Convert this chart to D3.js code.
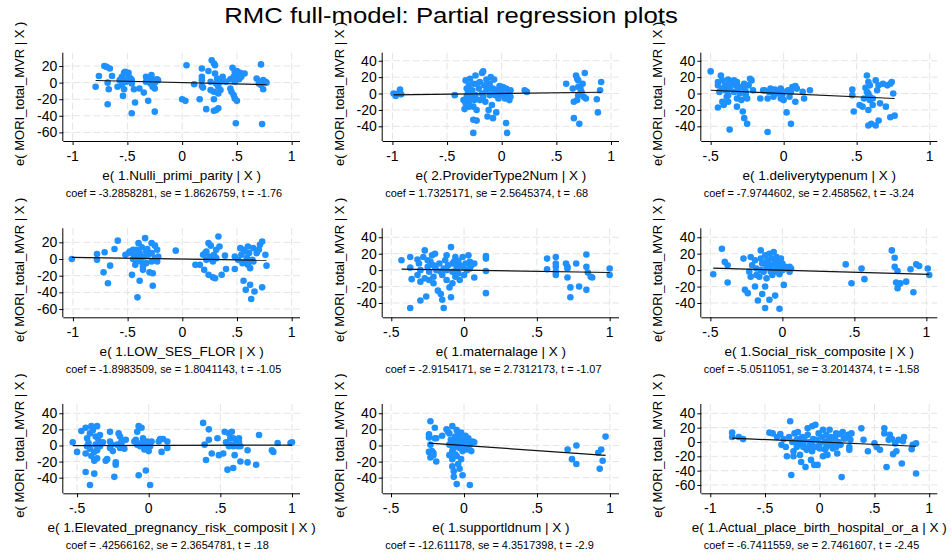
<!DOCTYPE html>
<html><head><meta charset="utf-8">
<script src="https://cdn.jsdelivr.net/npm/d3@7"></script>
<style>body{margin:0;background:#fff} text{font-family:"Liberation Sans",Arial,Helvetica,sans-serif;fill:#000}</style>
</head><body><svg id="c" width="951" height="556"></svg>
<script>
const chartTitle = "RMC full-model: Partial regression plots";
const yTitle = "e( MORI_total_MVR | X )";
const xTitles = ["e( 1.Nulli_primi_parity | X )","e( 2.ProviderType2Num | X )","e( 1.deliverytypenum | X )",
  "e( 1.LOW_SES_FLOR | X )","e( 1.maternalage | X )","e( 1.Social_risk_composite | X )",
  "e( 1.Elevated_pregnancy_risk_composit | X )","e( 1.supportldnum | X )","e( 1.Actual_place_birth_hospital_or_a | X )"];
const notes = ["coef = -3.2858281, se = 1.8626759, t = -1.76","coef = 1.7325171, se = 2.5645374, t = .68","coef = -7.9744602, se = 2.458562, t = -3.24",
  "coef = -1.8983509, se = 1.8041143, t = -1.05","coef = -2.9154171, se = 2.7312173, t = -1.07","coef = -5.0511051, se = 3.2014374, t = -1.58",
  "coef = .42566162, se = 2.3654781, t = .18","coef = -12.611178, se = 4.3517398, t = -2.9","coef = -6.7411559, se = 2.7461607, t = -2.45"];
const coefs = [-3.2858281, 1.7325171, -7.9744602, -1.8983509, -2.9154171, -5.0511051, 0.42566162, -12.611178, -6.7411559];
const xTicksWide = [-1, -0.5, 0, 0.5, 1];
const xTicksNarrow = [-0.5, 0, 0.5, 1];
const yTicks60 = [-60, -40, -20, 0, 20];
const yTicks40 = [-40, -20, 0, 20, 40];
const yTicks6040 = [-60, -40, -20, 0, 20, 40];

const ptsNulli = [[-0.79,-5],[-0.76,8],[-0.71,20],[-0.69,19],[-0.66,17],[-0.68,0],[-0.67,-8],[-0.68,-26],[-0.64,8],[-0.59,-5],
[-0.55,7],[-0.53,12],[-0.52,13],[-0.50,11],[-0.49,8],[-0.53,3],[-0.51,1],[-0.47,5],[-0.55,-3],[-0.53,-8],[-0.46,-1],[-0.57,3],[-0.49,12],[-0.46,3],
[-0.54,-16],[-0.46,-37],[-0.44,-8],[-0.43,-24],[-0.39,-7],[-0.35,-12],[-0.31,-22],
[-0.33,7],[-0.31,4],[-0.28,9],[-0.26,3],[-0.23,4],[-0.29,-1],[-0.27,-5],[-0.25,0],[-0.33,1],[-0.25,-7],[-0.25,-35],[-0.22,3],
[0.0,-20],[0.03,-22],[0.04,21],[0.11,-2],[0.16,-20],[0.18,17],[0.18,7],[0.18,3],[0.18,-4],[0.19,-6],[0.22,-32],[0.24,14],[0.26,1],[0.27,27],[0.29,23],[0.30,21],[0.26,-9],[0.29,-11],[0.29,-20],[0.29,-34],[0.31,-33],[0.33,-31],[0.30,11],[0.32,5],[0.31,-1],[0.33,-5],[0.35,1],[0.33,-13],[0.35,-9],[0.37,7],[0.40,1],[0.44,-7],[0.45,-11],
[0.46,18],[0.48,13],[0.50,11],[0.51,9],[0.47,7],[0.49,5],[0.52,4],[0.48,1],[0.54,7],[0.57,11],[0.44,4],[0.50,14],[0.53,12],[0.47,-15],[0.48,-19],[0.50,-22],[0.49,-49],
[0.72,22],[0.68,5],[0.71,1],[0.74,3],[0.76,1],[0.77,0],[0.72,-3],[0.74,-8],[0.70,-1],[0.73,-50]];

const ptsProvider = [[-0.99,0],[-0.97,-3],[-0.95,0],[-0.93,5],[-0.92,-1],[-0.43,-2],
[-0.35,-8],[-0.34,-19],[-0.33,16],[-0.32,6],[-0.31,0],[-0.30,-10],[-0.30,10],[-0.29,18],[-0.27,4],[-0.27,-4],[-0.26,-16],[-0.26,12],[-0.26,-32],[-0.24,22],[-0.26,-48],[-0.24,-2],[-0.23,-20],[-0.23,-33],[-0.21,6],[-0.20,14],[-0.20,-8],[-0.18,25],[-0.17,27],[-0.18,0],[-0.16,10],[-0.15,-10],[-0.14,4],[-0.14,17],[-0.12,-20],[-0.13,-28],[-0.11,-2],[-0.11,12],[-0.10,20],[-0.09,-14],[-0.08,6],[-0.08,-30],[-0.07,17],[-0.06,-2],[-0.05,-23],[-0.04,4],[-0.03,-6],[-0.02,9],[0,2],[0.01,8],[0.02,-2],[0.03,-6],[0.04,6],[0.04,-36],[0.05,-48],[0.06,0],[0.07,-8],[0.08,4],[0.08,-4],[-0.32,-4],[-0.28,2],[-0.25,-8],[-0.23,12],[-0.17,-4],[-0.12,6],[-0.08,0],[-0.03,0],[-0.30,-16],[-0.33,-12],
[0.21,4],[0.23,2],
[0.59,12],[0.65,6],[0.66,-10],[0.66,-30],[0.68,22],[0.69,18],[0.70,-2],[0.70,16],[0.71,-37],[0.72,6],[0.73,2],[0.74,12],[0.75,-4],[0.76,25],[0.77,-6],[0.69,-8],[0.70,8],[0.87,-7],[0.88,-23],[0.90,4],[0.91,14],[0.72,0]];

const ptsDelivery = [[-0.50,27],
[-0.45,14],[-0.45,10],[-0.44,2],[-0.45,-17],[-0.43,22],[-0.42,16],[-0.42,6],[-0.42,-10],[-0.41,-14],[-0.40,10],[-0.39,-4],[-0.38,17],[-0.38,-10],[-0.37,-44],[-0.37,6],[-0.35,12],[-0.34,2],[-0.33,10],[-0.32,-6],[-0.32,-16],[-0.32,14],[-0.31,6],[-0.30,0],[-0.30,8],[-0.29,-8],[-0.28,-22],[-0.27,12],[-0.27,-30],[-0.26,2],[-0.26,-2],[-0.25,-37],[-0.24,10],[-0.23,18],[-0.22,16],[-0.21,4],[-0.25,-6],[-0.38,-2],[-0.40,4],[-0.34,16],[-0.37,12],[-0.27,6],
[-0.16,-6],[-0.14,4],[-0.13,4],[-0.11,-6],[-0.11,-47],[-0.10,2],[-0.09,6],[-0.08,2],[-0.07,-4],[-0.06,5],[-0.05,0],[-0.03,2],[-0.02,6],[-0.01,-2],[0,-8],[0.00,2],[0.02,-23],[0.03,4],[0.04,-4],[0.05,-37],[0.05,2],[0.06,8],[0.08,9],[0.08,-10],[0.09,6],[0.13,2],[0.14,-6],[0.18,4],[-0.07,4],[-0.02,-6],
[0.47,5],[0.47,-2],[0.48,-22],[0.52,-14],[0.54,-16],[0.55,-6],[0.56,7],[0.57,22],[0.57,2],[0.58,14],[0.58,-20],[0.58,-39],[0.58,0],[0.59,-8],[0.59,-4],[0.59,10],[0.60,-37],[0.61,-6],[0.61,-14],[0.63,16],[0.63,-39],[0.64,4],[0.65,10],[0.65,-33],[0.66,-12],[0.68,12],[0.70,-16],[0.71,10],[0.73,12],[0.74,14],[0.75,0],[0.73,-29],[0.76,-27],[0.58,-4]];

const ptsLowSes = [[-1.01,0],
[-0.78,6],[-0.78,-1],[-0.71,8],[-0.72,-16],[-0.68,-29],[-0.66,-8],[-0.62,12],[-0.59,22],
[-0.52,5],[-0.49,7],[-0.48,9],[-0.46,-19],[-0.45,0],[-0.44,4],[-0.43,-7],[-0.42,11],[-0.42,-1],[-0.41,-46],[-0.40,19],[-0.39,7],[-0.39,-26],[-0.38,-3],[-0.37,14],[-0.36,-13],[-0.36,-9],[-0.35,3],[-0.34,25],[-0.33,9],[-0.33,-5],[-0.31,5],[-0.30,-16],[-0.28,-3],[-0.28,19],[-0.27,-17],[-0.27,-32],[-0.25,16],[-0.25,1],[-0.23,-3],[-0.22,3],[-0.45,11],[-0.39,1],[-0.32,12],[-0.28,7],[-0.23,11],
[-0.06,10],
[0.12,-7],[0.16,-7],[0.20,-13],[0.21,7],[0.22,9],[0.24,19],[0.24,-19],[0.25,3],[0.26,16],[0.27,-1],[0.28,-22],[0.29,5],[0.30,-23],[0.31,11],[0.31,1],[0.33,27],[0.34,15],[0.36,-19],[0.39,4],[0.40,-12],[0.19,5],[0.22,-1],[0.28,-3],
[0.48,3],[0.48,-12],[0.51,-1],[0.53,13],[0.54,5],[0.55,-5],[0.56,-26],[0.57,9],[0.58,-37],[0.59,1],[0.60,15],[0.60,-7],[0.61,7],[0.62,-11],[0.62,-31],[0.63,-48],[0.64,-1],[0.65,13],[0.66,-39],[0.68,7],[0.70,11],[0.71,17],[0.73,21],[0.73,-34],[0.76,5],[0.77,-8],[0.56,11],[0.65,-3],[0.59,-5]];

const ptsMaternal = [[-0.43,12],[-0.37,16],[-0.37,3],[-0.36,-11],[-0.37,-46],
[-0.32,13],[-0.32,-6],[-0.31,8],[-0.30,0],[-0.30,-37],[-0.28,16],[-0.27,-10],[-0.27,24],[-0.26,-32],[-0.25,12],[-0.25,4],[-0.24,-2],[-0.24,-12],[-0.23,10],[-0.22,18],[-0.21,-8],[-0.21,-16],[-0.20,4],[-0.20,20],[-0.19,0],[-0.18,-25],[-0.17,8],[-0.16,-29],[-0.15,-36],[-0.15,-6],[-0.14,2],[-0.14,-46],[-0.13,12],[-0.12,18],[-0.12,-12],[-0.11,6],[-0.10,-21],[-0.09,-33],[-0.09,28],[-0.08,-2],[-0.08,-16],[-0.07,10],[-0.06,-8],[-0.06,16],[-0.05,4],[-0.04,-4],[-0.04,11],[-0.03,-12],[-0.01,16],[-0.01,4],[0.0,-6],[0.01,8],[0.02,0],[0.03,18],[0.04,10],[0.04,2],[0.05,6],[0.07,-9],[0.07,8],[-0.21,6],[-0.16,-2],[-0.12,0],[-0.08,8],[-0.05,2],[-0.03,6],[-0.30,-14],
[0.15,17],[0.15,-1],[0.15,-28],[0.15,14],
[0.57,14],[0.57,1],[0.63,16],[0.63,8],[0.63,4],[0.63,-2],[0.63,-6],[0.70,8],[0.71,4],[0.71,-9],[0.71,2],[0.73,-21],[0.73,-33],[0.77,8],[0.79,-20],[0.84,19],[0.84,4],[0.85,-3],[0.84,-24],[0.87,-8],[0.88,-9],[1.0,2],[1.0,-6]];

const ptsSocial = [[-0.48,-5],[-0.42,26],[-0.40,10],[-0.38,6],[-0.38,-15],
[-0.27,14],[-0.26,-24],[-0.24,-28],
[-0.22,16],[-0.22,-8],[-0.21,6],[-0.19,-20],[-0.19,12],[-0.18,2],[-0.17,-37],[-0.16,-8],[-0.15,24],[-0.15,14],[-0.14,8],[-0.14,-29],[-0.13,-2],[-0.12,-20],[-0.12,-46],[-0.12,18],[-0.11,4],[-0.11,-10],[-0.10,12],[-0.09,-36],[-0.09,20],[-0.08,0],[-0.08,6],[-0.07,14],[-0.07,-6],[-0.06,22],[-0.05,-31],[-0.05,8],[-0.04,16],[-0.04,2],[-0.03,12],[-0.02,-5],[-0.02,6],[-0.02,-47],[-0.01,14],[0,0],[0.0,8],[0.01,-18],[0.02,4],[0.05,4],[0.05,-2],[0.06,2],[-0.23,-2],[-0.18,-6],[-0.15,0],[-0.11,10],[-0.08,-2],[-0.04,-2],[-0.01,6],[0.03,2],
[0.44,7],[0.48,-16],[0.55,2],[0.57,-11],[0.76,24],[0.78,15],[0.78,4],[0.80,-1],[0.79,-15],[0.81,-17],[0.80,-22],[0.82,-16],[0.86,-14],[0.89,1],[0.91,-27],[0.93,7],[0.95,5],[1.01,2],[1.02,-6]];

const ptsElevated = [[-0.53,4],[-0.50,-8],
[-0.47,18],[-0.44,22],[-0.44,-33],[-0.44,-10],[-0.43,9],[-0.42,3],[-0.41,-49],[-0.41,-4],[-0.41,15],[-0.40,-13],[-0.39,19],[-0.38,-19],[-0.38,-35],[-0.37,1],[-0.37,11],[-0.36,-6],[-0.36,-16],[-0.35,6],[-0.34,13],[-0.34,-1],[-0.36,24],[-0.40,24],[-0.30,-19],[-0.29,-17],[-0.27,17],[-0.27,5],[-0.27,-3],[-0.26,1],[-0.25,-7],[-0.24,-39],[-0.23,-24],[-0.23,-21],[-0.22,1],[-0.21,15],[-0.20,11],[-0.20,-3],[-0.19,5],[-0.17,-4],[-0.16,7],[-0.19,3],[-0.32,4],[-0.43,-1],[-0.38,-8],
[-0.10,5],[-0.09,7],[-0.08,17],[-0.07,-37],[-0.07,24],[-0.06,-1],[-0.05,22],[-0.05,3],[-0.04,9],[-0.03,-3],[-0.03,-5],[-0.02,-31],[-0.01,1],[-0.01,5],[0.0,-7],[0.01,-49],[0.01,-1],[0.02,5],[0.07,5],[0.08,8],[0.09,-8],[0.10,8],[0.13,5],[0.13,-3],[-0.08,1],
[0.38,28],[0.39,1],[0.40,-18],[0.42,20],[0.42,7],[0.44,-10],[0.48,9],[0.49,-12],[0.52,-10],[0.53,17],[0.54,4],[0.55,-30],[0.56,15],[0.56,-1],[0.57,9],[0.57,1],[0.58,17],[0.59,-28],[0.59,9],[0.60,-12],[0.61,5],[0.62,-1],[0.63,9],[0.63,5],[0.64,-20],[0.64,-1],[0.69,-6],[0.69,-21],[0.75,-24],[0.77,13],[0.86,-6],[0.87,-8],[0.90,3],[0.99,3],[1.00,4],[0.59,-1]];

const ptsSupport = [[-0.23,30],[-0.24,14],[-0.24,10],[-0.23,1],[-0.24,-8],[-0.22,-7],[-0.21,-9],[-0.23,-15],[-0.20,22],[-0.20,9],[-0.19,9],[-0.19,-20],[-0.15,12],[-0.21,-12],
[-0.12,20],[-0.11,17],[-0.10,15],[-0.09,7],[-0.08,24],[-0.08,-1],[-0.08,-7],[-0.08,-17],[-0.08,-26],[-0.07,-32],[-0.07,-39],[-0.06,11],[-0.06,5],[-0.05,19],[-0.05,-13],[-0.05,-48],[-0.05,1],[-0.04,-23],[-0.04,13],[-0.03,-3],[-0.03,9],[-0.03,-29],[-0.02,-17],[-0.02,16],[-0.02,3],[-0.01,-37],[-0.01,-7],[0,7],[0.01,12],[0.01,1],[0.02,-5],[0.03,9],[0.04,-49],[0.04,1],[0.05,-7],[0.06,5],[0.07,4],[-0.10,1],[-0.07,-3],[-0.04,5],[-0.01,1],[0.02,4],[-0.06,-11],[-0.10,-12],
[0.71,-5],[0.74,-17],[0.77,0],[0.77,-23],[0.92,-9],[0.93,-29],[0.94,-5],[0.95,-19],[0.97,11]];

const ptsPlace = [[-0.80,13],[-0.80,7],[-0.74,7],[-0.70,4],
[-0.46,13],[-0.43,12],[-0.39,7],[-0.36,11],[-0.35,-4],[-0.33,4],[-0.31,-7],[-0.30,-20],[-0.28,7],[-0.27,29],[-0.26,-46],[-0.25,0],[-0.24,-13],[-0.24,-20],[-0.23,12],[-0.22,0],[-0.21,-7],[-0.20,4],[-0.20,14],[-0.18,-18],[-0.18,-2],[-0.17,-28],[-0.16,7],[-0.15,-7],[-0.14,3],[-0.13,-35],[-0.12,-11],[-0.11,10],[-0.11,19],[-0.10,-7],[-0.09,0],[-0.08,-25],[-0.07,-13],[-0.07,22],[-0.06,4],[-0.05,-32],[-0.04,-7],[-0.04,24],[-0.03,3],[-0.02,-32],[-0.01,12],[0,-9],[0.02,7],[0.03,-20],[0.03,17],[0.05,0],[0.06,10],[0.06,-7],[0.07,-18],[0.08,3],[0.09,17],[0.10,7],[0.11,-2],[0.12,-9],[0.14,5],[0.15,12],[0.16,-16],[0.17,0],[0.18,11],[0.19,-4],[0.20,-49],[0.21,14],[0.23,5],[0.26,10],[0.27,-7],[0.27,-11],[0.28,3],[0.29,12],
[0.38,19],[0.40,3],[0.44,-13],[0.50,-2],[0.52,-7],[0.55,-11],[0.59,19],[0.59,12],[0.61,-35],[0.63,3],[0.64,10],[0.66,4],[0.67,-17],[0.69,-2],[0.70,-13],[0.72,3],[0.75,-30],[0.76,1],[0.77,7],[0.84,-10],[0.85,-4],[0.88,-2],[0.88,-44],
[-0.15,-2],[-0.07,-4],[0,-2],[0.09,-4],[0.15,-7],[-0.21,3],[0.22,5],[0.05,-11]];

const panelPoints = [ptsNulli, ptsProvider, ptsDelivery, ptsLowSes, ptsMaternal, ptsSocial, ptsElevated, ptsSupport, ptsPlace];
const panelXTicks = [xTicksWide, xTicksWide, xTicksNarrow, xTicksWide, xTicksNarrow, xTicksNarrow, xTicksNarrow, xTicksNarrow, xTicksWide];
const panelYTicks = [yTicks60, yTicks40, yTicks40, yTicks60, yTicks40, yTicks40, yTicks40, yTicks40, yTicks6040];

// ---- layout (pixels) ----
const colX = [[63.3,300],[382.7,619],[701.3,937.3]];
const rowY = [[52.7,141],[228.3,317.3],[404,493.3]];
const xDom = [[-1.085,1.076],[-1.089,1.073],[-0.564,1.052],[-1.088,1.076],[-0.559,1.064],[-0.563,1.076],[-0.596,1.056],[-0.557,1.062],[-1.082,1.074]];
const yDom = [[-70.4,36.1],[-57.9,49.8],[-57.9,49.8],[-69.9,36.8],[-57.4,50.9],[-57.4,50.9],[-59.4,51.5],[-59.4,51.5],[-71.6,53]];
const dotColor = "#1e90ff";

const svg = d3.select("#c");
const fmt = d => d === 0 ? "0" : String(d).replace(/^(-?)0\./, "$1.");

function txt(g, x, y, s, size, anchor, sx) {
  return g.append("text").attr("transform", `translate(${x},${y}) scale(${sx},1)`)
    .attr("text-anchor", anchor).style("font-size", size + "px").text(s);
}

for (let i = 0; i < 9; i++) {
  const r = Math.floor(i/3), c = i % 3;
  const [x0,x1] = colX[c], [y0,y1] = rowY[r];
  const xs = d3.scaleLinear().domain(xDom[i]).range([x0,x1]);
  const ys = d3.scaleLinear().domain(yDom[i]).range([y1,y0]);
  const g = svg.append("g");
  // grid
  g.selectAll(".hg").data(panelYTicks[i]).join("line")
    .attr("x1",x0).attr("x2",x1).attr("y1",d=>ys(d)).attr("y2",d=>ys(d))
    .attr("stroke","#e4e4e4").attr("stroke-width",1).attr("stroke-dasharray","7,3");
  g.selectAll(".vg").data(panelXTicks[i]).join("line")
    .attr("y1",y0).attr("y2",y1).attr("x1",d=>xs(d)).attr("x2",d=>xs(d))
    .attr("stroke","#e4e4e4").attr("stroke-width",1).attr("stroke-dasharray","7,3");
  // points
  const pts = panelPoints[i];
  g.selectAll("circle").data(pts).join("circle")
    .attr("cx",d=>xs(d[0])).attr("cy",d=>ys(d[1])).attr("r",3.3).attr("fill",dotColor);
  // fitted line
  const ext = d3.extent(pts, d=>d[0]);
  g.append("line").attr("x1",xs(ext[0])).attr("x2",xs(ext[1]))
    .attr("y1",ys(coefs[i]*ext[0])).attr("y2",ys(coefs[i]*ext[1]))
    .attr("stroke","#111").attr("stroke-width",1.2);
  // axes
  const xa = g.append("g").attr("transform",`translate(0,${y1})`)
    .call(d3.axisBottom(xs).tickValues(panelXTicks[i]).tickSize(4).tickSizeOuter(0).tickFormat(""));
  xa.select(".domain").attr("d",`M${x0},0.5H${x1}`).attr("stroke","#000");
  const ya = g.append("g").attr("transform",`translate(${x0},0)`)
    .call(d3.axisLeft(ys).tickValues(panelYTicks[i]).tickSize(4).tickSizeOuter(0).tickFormat(""));
  ya.select(".domain").attr("d",`M-0.5,${y0}V${y1}`).attr("stroke","#000");
  // tick labels
  panelXTicks[i].forEach(t => txt(g, xs(t), y1+20, fmt(t), 14, "middle", 1));
  panelYTicks[i].forEach(t => txt(g, x0-6, ys(t)+5, fmt(t), 14, "end", 1));
  // titles
  txt(g, (x0+x1)/2, y1+39, xTitles[i], 13.5, "middle", 1);
  g.append("text").attr("transform",`translate(${x0-39},${(y0+y1)/2-3}) rotate(-90)`)
    .attr("text-anchor","middle").style("font-size","13px").text(yTitle);
  txt(g, x0+2.5, y1+55.5, notes[i], 10.5, "start", 1.04);
}
txt(svg, 451, 23, chartTitle, 23, "middle", 1.12);
</script></body></html>
